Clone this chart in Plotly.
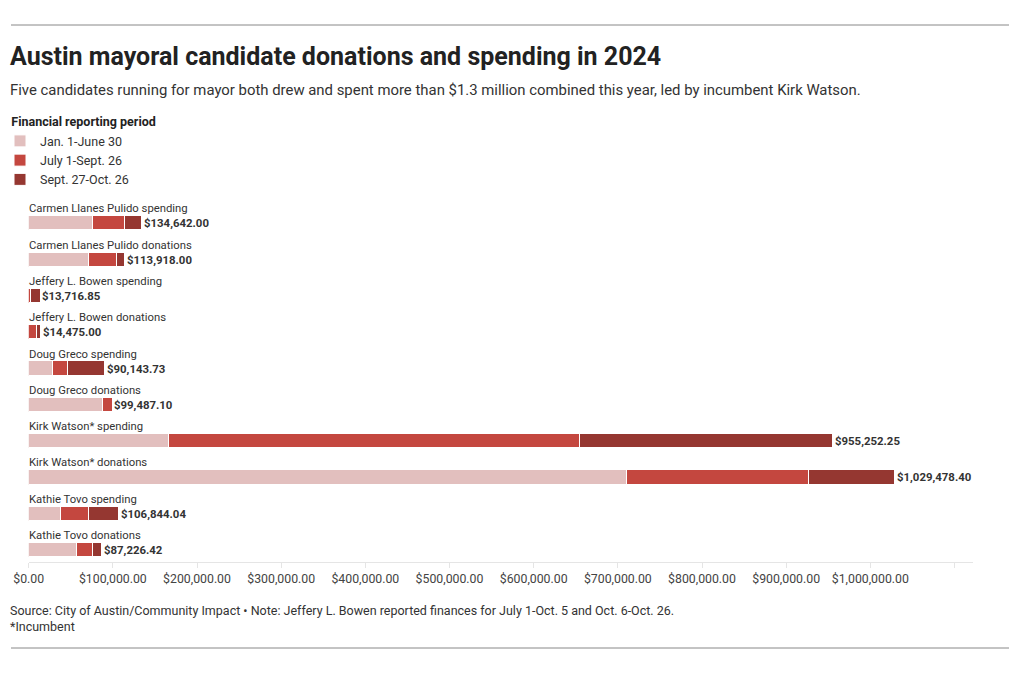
import plotly.graph_objects as go

rows = [
    "Carmen Llanes Pulido spending",
    "Carmen Llanes Pulido donations",
    "Jeffery L. Bowen spending",
    "Jeffery L. Bowen donations",
    "Doug Greco spending",
    "Doug Greco donations",
    "Kirk Watson* spending",
    "Kirk Watson* donations",
    "Kathie Tovo spending",
    "Kathie Tovo donations",
]
period_names = ["Jan. 1-June 30", "July 1-Sept. 26", "Sept. 27-Oct. 26"]
jan_jun = [76000, 70800, 0, 0, 28000, 87900, 166300, 710200, 38400, 57000]
jul_sep = [38400, 33700, 2500, 9900, 18300, 11587.10, 488100, 216900, 33200, 19000]
sep_oct = [20242, 9418, 11216.85, 4575, 43843.73, 0, 300852.25, 102378.40, 35244.04, 11226.42]
totals = [134642.00, 113918.00, 13716.85, 14475.00, 90143.73, 99487.10, 955252.25, 1029478.40, 106844.04, 87226.42]
total_labels = ["$134,642.00", "$113,918.00", "$13,716.85", "$14,475.00", "$90,143.73",
                "$99,487.10", "$955,252.25", "$1,029,478.40", "$106,844.04", "$87,226.42"]
tick_vals = [0, 100000, 200000, 300000, 400000, 500000, 600000, 700000, 800000, 900000, 1000000, 1100000]
tick_text = ["$0.00", "$100,000.00", "$200,000.00", "$300,000.00", "$400,000.00", "$500,000.00",
             "$600,000.00", "$700,000.00", "$800,000.00", "$900,000.00", "$1,000,000.00", ""]
colors = ["#e2bfbe", "#c4473f", "#953731"]

FONT = "Roboto"
W, H = 1020, 673


def px(x):
    return x / W


def py(y):
    return 1 - y / H


fig = go.Figure()
for name, vals, col in zip(period_names, [jan_jun, jul_sep, sep_oct], colors):
    fig.add_trace(go.Bar(
        y=rows, x=vals, orientation="h", name=name,
        marker=dict(color=col, line=dict(color="white", width=1)),
        width=0.39, hoverinfo="x+name",
    ))

ann = []
for r in rows:
    ann.append(dict(x=0, y=r, xref="x", yref="y", text=r, showarrow=False,
                    xanchor="left", yanchor="bottom", yshift=6, xshift=-2,
                    font=dict(family=FONT, size=11.3, color="#333333")))
for r, t, lbl in zip(rows, totals, total_labels):
    ann.append(dict(x=t, y=r, xref="x", yref="y", text="<b>" + lbl + "</b>", showarrow=False,
                    xanchor="left", yanchor="middle", xshift=0,
                    font=dict(family=FONT, size=11.4, color="#333333")))

ann.append(dict(x=px(8.4), y=py(56), xref="paper", yref="paper", xanchor="left", yanchor="middle",
                text="<b>Austin mayoral candidate donations and spending in 2024</b>", showarrow=False,
                font=dict(family=FONT, size=25, color="#222222")))
ann.append(dict(x=px(8.4), y=py(90), xref="paper", yref="paper", xanchor="left", yanchor="middle",
                text="Five candidates running for mayor both drew and spent more than $1.3 million combined this year, led by incumbent Kirk Watson.",
                showarrow=False, font=dict(family=FONT, size=14.9, color="#333333")))
ann.append(dict(x=px(8.4), y=py(601), xref="paper", yref="paper", xanchor="left", yanchor="top",
                text="Source: City of Austin/Community Impact • Note: Jeffery L. Bowen reported finances for July 1-Oct. 5 and Oct. 6-Oct. 26.<br>*Incumbent",
                showarrow=False, align="left", font=dict(family=FONT, size=12.5, color="#333333")))

fig.update_layout(
    width=W, height=H,
    margin=dict(l=0, r=0, t=0, b=0, autoexpand=False),
    paper_bgcolor="white", plot_bgcolor="white",
    barmode="stack", bargap=0,
    font=dict(family=FONT, color="#333333"),
    annotations=ann,
    showlegend=True,
    legend=dict(x=0, y=py(110), xref="paper", yref="paper", xanchor="left", yanchor="top",
                orientation="v", traceorder="normal",
                title=dict(text="<b>\u00a0\u00a0\u00a0Financial reporting period</b>",
                           font=dict(family=FONT, size=12.5, color="#222222")),
                font=dict(family=FONT, size=12.5, color="#333333"),
                itemwidth=30, tracegroupgap=0, bgcolor="rgba(0,0,0,0)"),
    xaxis=dict(domain=[px(28.7), px(973)], range=[0, 1122000], tickvals=tick_vals, ticktext=tick_text,
               showgrid=False, zeroline=False, showline=True, linecolor="#e5e5e5", linewidth=1,
               ticks="outside", ticklen=5, tickcolor="#e5e5e5", automargin=False,
               tickfont=dict(family=FONT, size=12.3, color="#444444"), fixedrange=True),
    yaxis=dict(domain=[py(562), py(199)], categoryorder="array", categoryarray=rows,
               range=[9.33, -0.67], visible=False, fixedrange=True, automargin=False),
    shapes=[
        dict(type="line", xref="paper", yref="paper", x0=px(11), x1=px(1009), y0=py(25), y1=py(25),
             line=dict(color="#888888", width=1)),
        dict(type="line", xref="paper", yref="paper", x0=px(11), x1=px(1009), y0=py(648), y1=py(648),
             line=dict(color="#888888", width=1)),
    ],
)
fig.write_html("out.html", config={"displayModeBar": False},
               post_script="document.body.style.margin='0';document.body.style.padding='0';")
